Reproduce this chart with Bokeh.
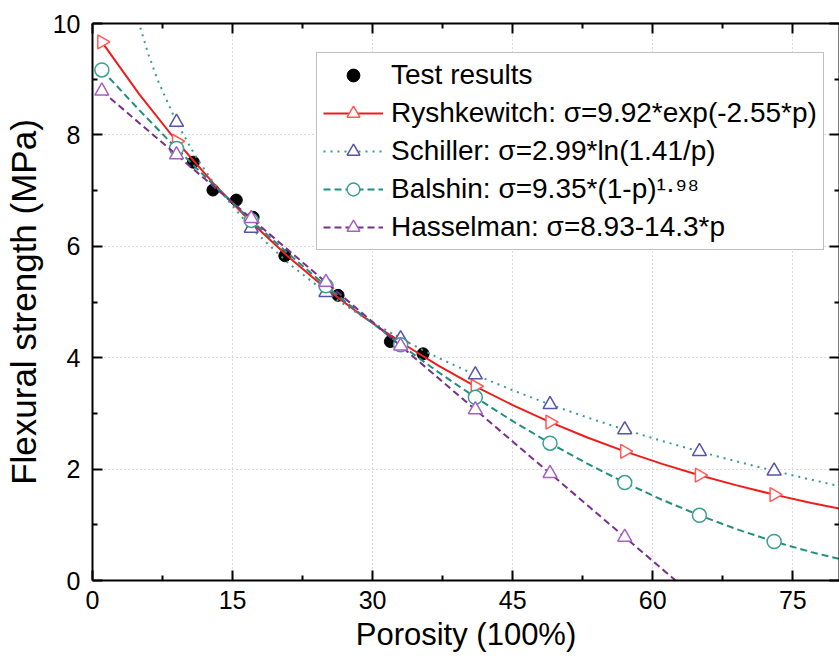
from bokeh.plotting import figure
from bokeh.models import Range1d, Legend, LegendItem, FixedTicker, LinearAxis
from bokeh.embed import file_html
from bokeh.resources import INLINE

# ---- data (porosity in %, strength in MPa) ----
test_p = [10.8, 12.9, 15.4, 17.2, 20.6, 26.3, 31.9, 35.4]
test_s = [7.51, 7.01, 6.83, 6.52, 5.83, 5.12, 4.29, 4.07]

curve_p = [1, 5, 9, 13, 17, 21, 25, 29, 33, 37, 41, 45, 49, 53, 57, 61, 65, 69, 73, 77, 80]
rysh = [9.670, 8.732, 7.886, 7.121, 6.431, 5.807, 5.244, 4.736, 4.277, 3.862, 3.487,
        3.149, 2.844, 2.568, 2.319, 2.094, 1.891, 1.708, 1.542, 1.393, 1.290]
balshin = [9.166, 8.447, 7.757, 7.097, 6.465, 5.863, 5.290, 4.746, 4.231, 3.745, 3.289,
           2.862, 2.465, 2.097, 1.758, 1.449, 1.170, 0.920, 0.700, 0.509, 0.386]
schiller_p = [4.9, 6, 7, 9, 11, 13, 17, 21, 25, 29, 33, 37, 41, 45, 49, 53, 57, 61, 65, 69, 73, 77, 80]
schiller = [10.045, 9.439, 8.979, 8.227, 7.627, 7.128, 6.325, 5.694, 5.172, 4.729, 4.342, 4.000,
            3.693, 3.415, 3.160, 2.926, 2.708, 2.505, 2.315, 2.137, 1.968, 1.809, 1.695]
hassel_p = [1, 5, 9, 13, 17, 21, 25, 29, 33, 37, 41, 45, 49, 53, 57, 61, 62.45]
hassel = [8.787, 8.215, 7.643, 7.071, 6.499, 5.927, 5.355, 4.783, 4.211, 3.639, 3.067,
          2.495, 1.923, 1.351, 0.779, 0.207, 0.0]

mark_p = [1, 9, 17, 25, 33, 41, 49, 57, 65, 73]
rysh_m = [9.670, 7.886, 6.431, 5.244, 4.277, 3.487, 2.844, 2.319, 1.891, 1.542]
balshin_m = [9.166, 7.757, 6.465, 5.290, 4.231, 3.289, 2.465, 1.758, 1.170, 0.700]
schiller_mp = [9, 17, 25, 33, 41, 49, 57, 65, 73]
schiller_m = [8.227, 6.325, 5.172, 4.342, 3.693, 3.160, 2.708, 2.315, 1.968]
hassel_mp = [1, 9, 17, 25, 33, 41, 49, 57]
hassel_m = [8.787, 7.643, 6.499, 5.355, 4.211, 3.067, 1.923, 0.779]

x_ticks = [0, 15, 30, 45, 60, 75]
x_minor = [7.5, 22.5, 37.5, 52.5, 67.5]
y_ticks = [0, 2, 4, 6, 8, 10]
y_minor = [1, 3, 5, 7, 9]

labels = ["Test results",
          "Ryshkewitch: σ=9.92*exp(-2.55*p)",
          "Schiller: σ=2.99*ln(1.41/p)",
          "Balshin: σ=9.35*(1-p)¹·⁹⁸",
          "Hasselman: σ=8.93-14.3*p"]

FONT = "Liberation Sans"

p = figure(width=839, height=662, x_range=Range1d(0, 80), y_range=Range1d(0, 10),
           output_backend="svg", toolbar_location=None,
           min_border_left=91, min_border_right=0, min_border_top=23, min_border_bottom=82)
p.outline_line_color = None
p.background_fill_color = "white"

xt = FixedTicker(ticks=x_ticks, minor_ticks=x_minor)
yt = FixedTicker(ticks=y_ticks, minor_ticks=y_minor)
p.xaxis.ticker = xt
p.yaxis.ticker = yt
p.xgrid.ticker = xt
p.ygrid.ticker = yt
for g in (p.xgrid, p.ygrid):
    g.grid_line_color = "#b4b4b4"
    g.grid_line_dash = "1 3"
    g.grid_line_width = 1


def style_axis(ax):
    ax.axis_line_width = 2
    ax.axis_line_color = "black"
    ax.major_tick_line_width = 2
    ax.minor_tick_line_width = 2
    ax.major_tick_in = 10
    ax.major_tick_out = 0
    ax.minor_tick_in = 5
    ax.minor_tick_out = 0
    ax.major_label_text_font = FONT
    ax.major_label_text_color = "black"
    ax.major_label_text_font_size = "25px"
    ax.axis_label_text_font = FONT
    ax.axis_label_text_font_style = "normal"
    ax.axis_label_text_color = "black"


style_axis(p.xaxis[0])
style_axis(p.yaxis[0])
p.xaxis.axis_label = "Porosity (100%)"
p.yaxis.axis_label = "Flexural strength (MPa)"
p.xaxis.axis_label_text_font_size = "31px"
p.yaxis.axis_label_text_font_size = "35px"
p.xaxis.major_label_standoff = 10
p.yaxis.major_label_standoff = 12
p.xaxis.axis_label_standoff = 5
p.yaxis.axis_label_standoff = 7

# mirrored frame axes on top and right (ticks only, labels not drawn)
top_ax = LinearAxis(ticker=xt)
right_ax = LinearAxis(ticker=yt)
for ax in (top_ax, right_ax):
    style_axis(ax)
    ax.major_label_text_color = None
    ax.major_label_text_font_size = "2px"
    ax.major_label_standoff = 0
p.add_layout(top_ax, "above")
p.add_layout(right_ax, "right")

# test results
r_test = p.scatter(test_p, test_s, marker="circle", size=12, color="black")

# Ryshkewitch
l1 = p.line(curve_p, rysh, line_color="#f01c1c", line_width=2)
m1 = p.scatter(mark_p, rysh_m, marker="triangle", angle=-1.5708, size=14,
               line_color="#ff5a5a", fill_color="white", line_width=1.5)
# Schiller
l2 = p.line(schiller_p, schiller, line_color="#3a9a8e", line_width=2, line_dash="2 5")
m2 = p.scatter(schiller_mp, schiller_m, marker="triangle", size=14,
               line_color="#5454a8", fill_color="white", line_width=1.5)
# Balshin
l3 = p.line(curve_p, balshin, line_color="#1f8f80", line_width=2, line_dash="7 4")
m3 = p.scatter(mark_p, balshin_m, marker="circle", size=14,
               line_color="#3aa090", fill_color="white", line_width=1.5)
# Hasselman
l4 = p.line(hassel_p, hassel, line_color="#7a2f8c", line_width=2, line_dash="7 4")
m4 = p.scatter(hassel_mp, hassel_m, marker="triangle", size=14,
               line_color="#a860c4", fill_color="white", line_width=1.5)

legend = Legend(items=[
    LegendItem(label=labels[0], renderers=[r_test]),
    LegendItem(label=labels[1], renderers=[l1, m1]),
    LegendItem(label=labels[2], renderers=[l2, m2]),
    LegendItem(label=labels[3], renderers=[l3, m3]),
    LegendItem(label=labels[4], renderers=[l4, m4]),
], location=(224, 330))
legend.label_text_font = FONT
legend.label_text_font_size = "28px"
legend.label_text_color = "black"
legend.glyph_width = 60
legend.glyph_height = 32
legend.label_height = 32
legend.label_standoff = 8
legend.spacing = 6
legend.padding = 6
legend.margin = 0
legend.border_line_color = "#7f7f7f"
legend.border_line_width = 1.5
legend.background_fill_alpha = 1
p.add_layout(legend)

open("out.html", "w").write(file_html(p, INLINE))
